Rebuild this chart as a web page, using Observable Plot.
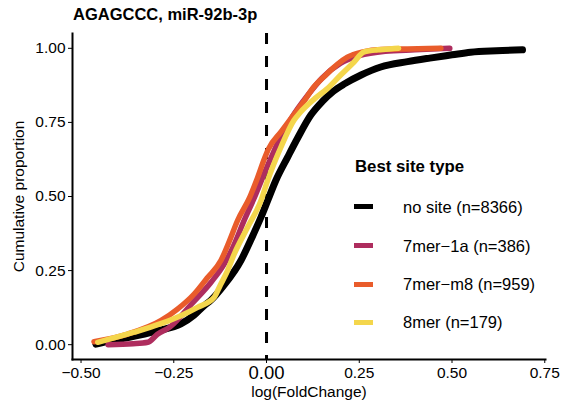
<!DOCTYPE html>
<html>
<head>
<meta charset="utf-8">
<script src="https://cdn.jsdelivr.net/npm/d3@7"></script>
<script src="https://cdn.jsdelivr.net/npm/@observablehq/plot@0.6"></script>
<style>
  html, body { margin: 0; padding: 0; background: #fff; }
  body { width: 572px; height: 403px; position: relative; overflow: hidden; font-family: "Liberation Sans", Arial, sans-serif; }
  #chart { position: absolute; left: 0; top: 0; }
  .ov { position: absolute; white-space: nowrap; line-height: 16px; color: #000; }
  .key { position: absolute; width: 19px; height: 5.5px; }
</style>
</head>
<body>
<div id="chart"></div>
<script>
// ---- data (points along each cumulative curve) ----
const groups = ["no site (n=8366)", "7mer−1a (n=386)", "7mer−m8 (n=959)", "8mer (n=179)"];
const colors = ["#000000", "#AE2D5E", "#E95C2B", "#F4D64C"];
const widths = [7, 5.5, 5.5, 5.5];

const noSiteX = [-0.46, -0.42, -0.37, -0.294, -0.231, -0.195, -0.168, -0.15, -0.115, -0.069, -0.04, -0.015, 0.003, 0.025, 0.057, 0.085, 0.119, 0.15, 0.18, 0.21, 0.255, 0.308, 0.38, 0.44, 0.5, 0.55, 0.62, 0.69];
const noSiteY = [0.002, 0.013, 0.025, 0.047, 0.07, 0.1, 0.132, 0.15, 0.2, 0.284, 0.36, 0.43, 0.486, 0.554, 0.633, 0.7, 0.774, 0.82, 0.855, 0.88, 0.91, 0.937, 0.955, 0.967, 0.978, 0.987, 0.992, 0.995];

const mer7aX = [-0.427, -0.36, -0.32, -0.294, -0.26, -0.2, -0.15, -0.115, -0.09, -0.06, -0.035, -0.015, 0.005, 0.03, 0.07, 0.11, 0.15, 0.2, 0.25, 0.32, 0.4, 0.494];
const mer7aY = [0.0, 0.003, 0.008, 0.035, 0.06, 0.14, 0.21, 0.27, 0.33, 0.42, 0.49, 0.55, 0.61, 0.68, 0.77, 0.84, 0.9, 0.95, 0.975, 0.99, 0.995, 1.0];

const mer7mX = [-0.465, -0.374, -0.285, -0.24, -0.195, -0.16, -0.123, -0.1, -0.078, -0.045, -0.027, -0.005, 0.005, 0.04, 0.07, 0.1, 0.128, 0.16, 0.19, 0.218, 0.26, 0.308, 0.38, 0.47];
const mer7mY = [0.01, 0.036, 0.081, 0.12, 0.171, 0.225, 0.284, 0.35, 0.419, 0.498, 0.554, 0.63, 0.66, 0.72, 0.77, 0.82, 0.87, 0.91, 0.945, 0.97, 0.988, 0.996, 0.998, 1.0];

const mer8X = [-0.455, -0.357, -0.285, -0.231, -0.186, -0.141, -0.125, -0.105, -0.087, -0.051, -0.015, 0.003, 0.039, 0.074, 0.092, 0.13, 0.164, 0.2, 0.236, 0.263, 0.3, 0.344, 0.356];
const mer8Y = [0.008, 0.042, 0.071, 0.098, 0.126, 0.16, 0.2, 0.25, 0.306, 0.396, 0.486, 0.554, 0.667, 0.757, 0.785, 0.83, 0.864, 0.91, 0.954, 0.988, 0.995, 0.999, 1.0];

const yTicks = [0, 0.25, 0.5, 0.75, 1];
const xTicks = [-0.5, -0.25, 0.25, 0.5, 0.75];
const xZeroTick = [0];

const seriesX = [noSiteX, mer7aX, mer7mX, mer8X];
const seriesY = [noSiteY, mer7aY, mer7mY, mer8Y];
const rows = seriesX.flatMap((xs, i) => xs.map((x, j) => ({group: groups[i], x, y: seriesY[i][j], k: i})));

const fmt = d3.format(".2f");

const plot = Plot.plot({
  width: 572,
  height: 403,
  marginLeft: 72,
  marginRight: 27,
  marginTop: 33,
  marginBottom: 44,
  style: {fontFamily: "Liberation Sans, Arial, sans-serif", color: "#000", background: "#fff"},
  x: {domain: [-0.523, 0.752]},
  y: {domain: [-0.05, 1.05]},
  marks: [
    Plot.ruleX(xZeroTick, {stroke: "#000", strokeWidth: 3, strokeDasharray: "11,12"}),
    ...groups.map((g, i) => Plot.line(rows.filter(r => r.k === i), {
      x: "x", y: "y", stroke: colors[i], strokeWidth: widths[i],
      strokeLinecap: "round", strokeLinejoin: "round", curve: "monotone-x"
    })),
    Plot.axisY({ticks: yTicks, tickFormat: fmt, fontSize: 15.5, tickSize: 4, tickPadding: 3,
      label: "Cumulative proportion", labelAnchor: "center", labelArrow: "none", labelOffset: 60}),
    Plot.axisX({ticks: xTicks, tickFormat: fmt, fontSize: 15.5, tickSize: 4, tickPadding: 3,
      label: "log(FoldChange)", labelAnchor: "center", labelArrow: "none", labelOffset: 37}),
    Plot.axisX({ticks: xZeroTick, tickFormat: fmt, fontSize: 18.5, tickSize: 4, tickPadding: 2, label: null}),
    Plot.frame({anchor: "left", strokeWidth: 2}),
    Plot.frame({anchor: "bottom", strokeWidth: 2})
  ]
});
document.getElementById("chart").appendChild(plot);

// ---- title and legend (HTML text overlaid) ----
function addText(txt, left, baseline, size, bold) {
  const d = document.createElement("div");
  d.className = "ov";
  d.textContent = txt;
  d.style.left = left + "px";
  d.style.top = (baseline - 0.845 * size) + "px";
  d.style.fontSize = size + "px";
  d.style.lineHeight = size + "px";
  if (bold) d.style.fontWeight = "bold";
  document.body.appendChild(d);
}
addText("AGAGCCC, miR-92b-3p", 73, 19.5, 16.5, true);
addText("Best site type", 355, 173.5, 16.8, true);
const keyCenters = [206.7, 245.7, 284.3, 322.3];
groups.forEach((g, i) => {
  const k = document.createElement("div");
  k.className = "key";
  k.style.left = "354px";
  k.style.top = (keyCenters[i] - 2.75) + "px";
  k.style.background = colors[i];
  document.body.appendChild(k);
  addText(g, 403, keyCenters[i] + 6, 16.5, false);
});
</script>
</body>
</html>
